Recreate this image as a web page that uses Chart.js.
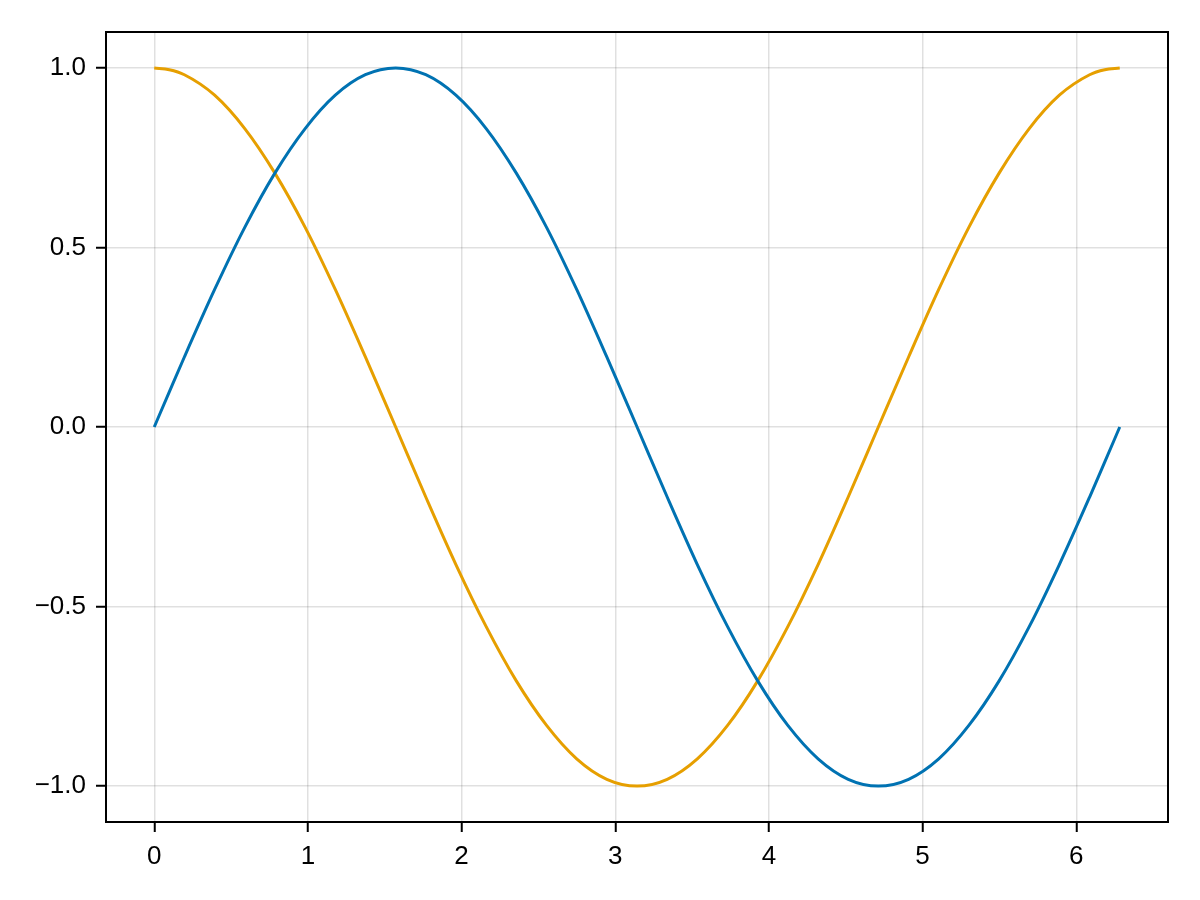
<!DOCTYPE html>
<html>
<head>
<meta charset="utf-8">
<script src="https://cdn.jsdelivr.net/npm/chart.js@4"></script>
<style>
  html, body { margin: 0; padding: 0; background: #fff; }
  #wrap { width: 1200px; height: 900px; }
</style>
</head>
<body>
<div id="wrap"><canvas id="chart" width="1200" height="900"></canvas></div>
<script>
const xValues = [0, 0.098, 0.196, 0.393, 0.589, 0.785, 0.982, 1.178, 1.374, 1.571, 1.767, 1.963, 2.160, 2.356, 2.553, 2.749, 2.945,
    3.142, 3.338, 3.534, 3.731, 3.927, 4.123, 4.320, 4.516, 4.712, 4.909, 5.105, 5.301, 5.498, 5.694, 5.890, 6.087, 6.185, 6.283];
const sinValues = [0.000, 0.098, 0.195, 0.383, 0.556, 0.707, 0.831, 0.924, 0.981, 1.000, 0.981, 0.924, 0.831, 0.707, 0.556, 0.383, 0.195,
    0.000, -0.195, -0.383, -0.556, -0.707, -0.831, -0.924, -0.981, -1.000, -0.981, -0.924, -0.831, -0.707, -0.556, -0.383, -0.195, -0.098, 0.000];
const cosValues = [1.000, 0.995, 0.981, 0.924, 0.831, 0.707, 0.556, 0.383, 0.195, 0.000, -0.195, -0.383, -0.556, -0.707, -0.831, -0.924, -0.981,
    -1.000, -0.981, -0.924, -0.831, -0.707, -0.556, -0.383, -0.195, 0.000, 0.195, 0.383, 0.556, 0.707, 0.831, 0.924, 0.981, 0.995, 1.000];
const xTicks = [0, 1, 2, 3, 4, 5, 6];
const yTicks = [-1.0, -0.5, 0.0, 0.5, 1.0];

const toPoints = ys => xValues.map((x, i) => ({ x: x, y: ys[i] }));

// box round the plot area (top and right sides too)
const frame = {
    id: 'frame',
    afterDraw(chart) {
        const { ctx, chartArea: a } = chart;
        ctx.save();
        ctx.strokeStyle = '#000';
        ctx.lineWidth = 2;
        ctx.strokeRect(a.left, a.top, a.right - a.left, a.bottom - a.top);
        ctx.restore();
    }
};

const gridStyle = {
    color: 'rgba(0,0,0,0.12)',
    lineWidth: 1.5,
    tickColor: '#000',
    tickWidth: 2,
    tickLength: 10
};

const tickFont = { family: 'Liberation Sans', size: 26 };

new Chart(document.getElementById('chart'), {
    type: 'line',
    data: {
        datasets: [{
            data: toPoints(sinValues),
            borderColor: '#0072B2',
            borderWidth: 3,
            pointRadius: 0,
            cubicInterpolationMode: 'monotone'
        }, {
            data: toPoints(cosValues),
            borderColor: '#E69F00',
            borderWidth: 3,
            pointRadius: 0,
            cubicInterpolationMode: 'monotone'
        }]
    },
    options: {
        responsive: false,
        animation: false,
        events: [],
        layout: { padding: { top: 32, right: 32, left: 0, bottom: 0 } },
        plugins: { legend: { display: false }, tooltip: { enabled: false } },
        scales: {
            x: {
                type: 'linear',
                min: -0.314,
                max: 6.597,
                afterBuildTicks: s => { s.ticks = xTicks.map(v => ({ value: v })); },
                afterFit: s => { s.height = 78; },
                grid: gridStyle,
                border: { color: '#000', width: 2 },
                ticks: {
                    color: '#000',
                    font: tickFont,
                    padding: 9,
                    maxRotation: 0,
                    callback: v => String(v)
                }
            },
            y: {
                type: 'linear',
                min: -1.1,
                max: 1.1,
                afterBuildTicks: s => { s.ticks = yTicks.map(v => ({ value: v })); },
                afterFit: s => { s.width = 106; },
                grid: gridStyle,
                border: { color: '#000', width: 2 },
                ticks: {
                    color: '#000',
                    font: tickFont,
                    padding: 10,
                    callback: v => v.toFixed(1).replace('-', '\u2212')
                }
            }
        }
    },
    plugins: [frame]
});
</script>
</body>
</html>
